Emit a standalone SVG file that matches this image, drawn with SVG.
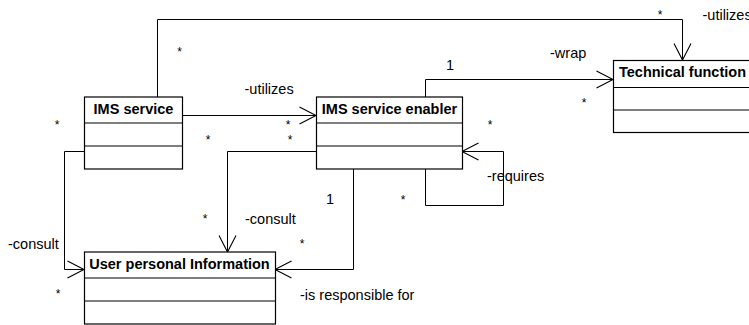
<svg xmlns="http://www.w3.org/2000/svg" width="749" height="325" viewBox="0 0 749 325">
<style>
.box{fill:#fff;stroke:#000;stroke-width:1.2}
.div{stroke:#000;stroke-width:1.2}
.title{font-family:"Liberation Sans",Arial,sans-serif;font-size:14.5px;font-weight:bold;text-anchor:middle;fill:#000}
.lbl{font-family:"Liberation Sans",Arial,sans-serif;font-size:14.5px;fill:#000}
.star{font-family:"Liberation Sans",Arial,sans-serif;font-size:12px;text-anchor:middle;fill:#000}
.con{fill:none;stroke:#000;stroke-width:1;marker-end:url(#open)}
</style>
<defs>
<marker id="open" markerUnits="userSpaceOnUse" markerWidth="20" markerHeight="22" refX="18" refY="10" orient="auto" overflow="visible">
<path d="M1.5 1.5 L18 10 L1.5 18.5" fill="none" stroke="#000" stroke-width="1.1"/>
</marker>
</defs>
<rect width="749" height="325" fill="#fff"/>
<g id="connectors">
<path class="con" d="M157.5 97 V19.5 H682.5 V60"/>
<path class="con" d="M182 115.5 H316"/>
<path class="con" d="M425.5 97 V79.5 H613"/>
<path class="con" d="M425.5 169 V205.5 H503.5 V151.5 H462"/>
<path class="con" d="M316 151.5 H227.5 V252"/>
<path class="con" d="M84 151.5 H64.5 V269.5 H84"/>
<path class="con" d="M353.5 169 V269.5 H275"/>
</g>
<g id="ims-service">
<rect class="box" x="84.5" y="97" width="98" height="72"/>
<line class="div" x1="84.5" y1="123" x2="182.5" y2="123"/>
<line class="div" x1="84.5" y1="146" x2="182.5" y2="146"/>
<text class="title" x="133.5" y="114">IMS service</text>
</g>
<g id="ims-service-enabler">
<rect class="box" x="316.5" y="97" width="146" height="72"/>
<line class="div" x1="316.5" y1="123" x2="462.5" y2="123"/>
<line class="div" x1="316.5" y1="146" x2="462.5" y2="146"/>
<text class="title" x="389.5" y="114">IMS service enabler</text>
</g>
<g id="technical-function">
<rect class="box" x="613.5" y="60.5" width="139" height="72"/>
<line class="div" x1="613.5" y1="87.5" x2="752.5" y2="87.5"/>
<line class="div" x1="613.5" y1="110" x2="752.5" y2="110"/>
<text class="title" x="682.5" y="77">Technical function</text>
</g>
<g id="user-personal-information">
<rect class="box" x="84.5" y="252" width="191" height="72"/>
<line class="div" x1="84.5" y1="278" x2="275.5" y2="278"/>
<line class="div" x1="84.5" y1="301" x2="275.5" y2="301"/>
<text class="title" x="179.5" y="269">User personal Information</text>
</g>
<g id="labels">
<text class="lbl" x="702.5" y="19.5">-utilizes</text>
<text class="lbl" x="244.5" y="93.5">-utilizes</text>
<text class="lbl" x="446" y="69.5">1</text>
<text class="lbl" x="550" y="57.5">-wrap</text>
<text class="lbl" x="487" y="180.5">-requires</text>
<text class="lbl" x="326" y="204">1</text>
<text class="lbl" x="245" y="224">-consult</text>
<text class="lbl" x="8" y="248.5">-consult</text>
<text class="lbl" x="300" y="300">-is responsible for</text>
<text class="star" x="179.5" y="55.5">*</text>
<text class="star" x="660" y="19">*</text>
<text class="star" x="57" y="129">*</text>
<text class="star" x="288" y="129">*</text>
<text class="star" x="208" y="144">*</text>
<text class="star" x="290" y="144">*</text>
<text class="star" x="584" y="107">*</text>
<text class="star" x="490" y="129">*</text>
<text class="star" x="403" y="204">*</text>
<text class="star" x="205" y="223">*</text>
<text class="star" x="302" y="248">*</text>
<text class="star" x="58" y="298">*</text>
</g>
</svg>
